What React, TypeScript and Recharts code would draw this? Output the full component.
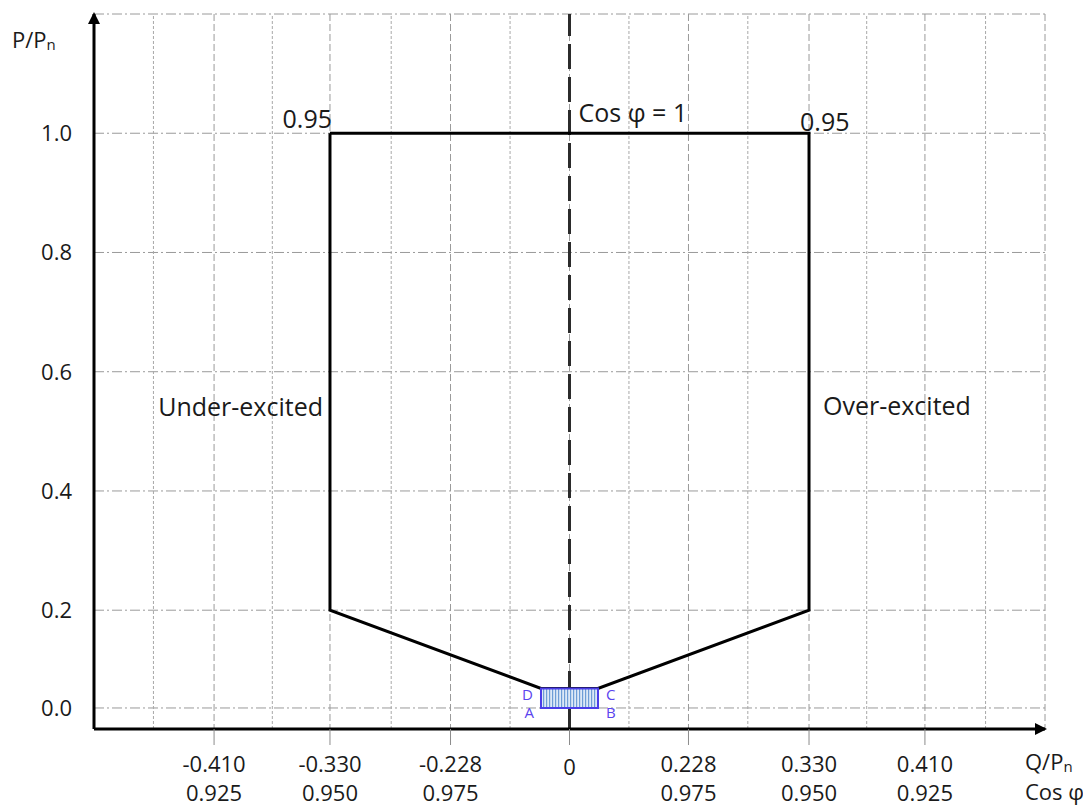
import {
  CartesianGrid,
  Line,
  LineChart,
  ReferenceArea,
  ReferenceDot,
  ReferenceLine,
  XAxis,
  YAxis,
} from 'recharts';

// capability outline, Q/Pn vs P/Pn
const outlineQ = [-0.33, 0.33, 0.33, 0.11, -0.11, -0.33, -0.33];
const outlineP = [1.0, 1.0, 0.2, 0.04, 0.04, 0.2, 1.0];

// small A-B-C-D box at the bottom
const boxQ = [-0.11, 0.11];
const boxP = [0, 0.04];

// x axis: Q/Pn ticks and the matching cos φ
const qTicks = [-0.41, -0.33, -0.228, 0, 0.228, 0.33, 0.41];
const qLabels = ['-0.410', '-0.330', '-0.228', '0', '0.228', '0.330', '0.410'];
const cosLabels = ['0.925', '0.950', '0.975', '', '0.975', '0.950', '0.925'];
// half steps between the cos φ ticks
const minorCos = [0.9125, 0.9375, 0.9625, 0.9875];

const pTicks = [0, 0.2, 0.4, 0.6, 0.8, 1.0];

const outline = outlineQ.map((q, i) => ({ q, p: outlineP[i] }));
const qOfCos = (c: number) => Math.tan(Math.acos(c));
const minorQ = minorCos.flatMap((c) => [-qOfCos(c), qOfCos(c)]);
const qLimit = qOfCos(0.9);

// x: equal steps of cos φ get equal room
const cosWarp = (q: number) => Math.sign(q) * (1 - 1 / Math.sqrt(1 + q * q));
// y: the 0..0.2 band is drawn a bit shorter than the others
const pWarp = (p: number) => (p >= 0.2 ? p : 0.2 - (0.2 - p) * 0.82);

function warpedScale(warp: (v: number) => number, dom: number[] = [0, 1], rng: number[] = [0, 1]): any {
  const s: any = (v: number) => {
    const a = warp(dom[0]);
    const b = warp(dom[dom.length - 1]);
    return rng[0] + ((warp(Number(v)) - a) / (b - a)) * (rng[rng.length - 1] - rng[0]);
  };
  s.domain = (d?: number[]) => {
    if (d === undefined) return dom;
    dom = d.map(Number);
    return s;
  };
  s.range = (r?: number[]) => {
    if (r === undefined) return rng;
    rng = r.map(Number);
    return s;
  };
  s.copy = () => warpedScale(warp, dom, rng);
  s.ticks = () => dom;
  return s;
}

const xScale = warpedScale(cosWarp);
const yScale = warpedScale(pWarp);

const FONT = '"Open Sans", sans-serif';
const INK = '#1a1a1a';
const GRID = '#9a9a9a';
const VIOLET = '#5a44ee';

type Note = { text: string; q: number; p: number; anchor: 'start' | 'end'; dx: number; dy: number; size: number; color: string };

const notes: Note[] = [
  { text: 'Under-excited', q: -0.33, p: 0.54, anchor: 'end', dx: -7, dy: 9, size: 25, color: INK },
  { text: 'Over-excited', q: 0.33, p: 0.54, anchor: 'start', dx: 14, dy: 8, size: 25, color: INK },
  { text: 'Cos φ = 1', q: 0, p: 1.0, anchor: 'start', dx: 9, dy: -11, size: 25, color: INK },
  { text: '0.95', q: -0.33, p: 1.0, anchor: 'end', dx: 2, dy: -5, size: 25, color: INK },
  { text: '0.95', q: 0.33, p: 1.0, anchor: 'start', dx: -9, dy: -2, size: 25, color: INK },
  { text: 'D', q: -0.11, p: 0.04, anchor: 'end', dx: -8, dy: 12, size: 15, color: VIOLET },
  { text: 'A', q: -0.11, p: 0, anchor: 'end', dx: -7, dy: 10, size: 15, color: VIOLET },
  { text: 'C', q: 0.11, p: 0.04, anchor: 'start', dx: 8, dy: 12, size: 15, color: VIOLET },
  { text: 'B', q: 0.11, p: 0, anchor: 'start', dx: 8, dy: 10, size: 15, color: VIOLET },
];

function QTick({ x, y, payload }: any) {
  const i = qTicks.indexOf(payload.value);
  if (i < 0) return null;
  const single = !cosLabels[i];
  return (
    <g fontFamily={FONT} fontSize={22} fill={INK} textAnchor="middle">
      <text x={x} y={y} dy={single ? 28 : 25}>
        {qLabels[i]}
      </text>
      {!single && (
        <text x={x} y={y} dy={54}>
          {cosLabels[i]}
        </text>
      )}
    </g>
  );
}

function XTitle({ viewBox }: any) {
  const x = viewBox.x + viewBox.width - 20;
  return (
    <g fontFamily={FONT} fill={INK}>
      <text x={x} y={viewBox.y + 41} fontSize={22}>
        Q/P
        <tspan fontSize={15} dy={2}>n</tspan>
      </text>
      <text x={x} y={viewBox.y + 71} fontSize={22}>
        Cos φ
      </text>
    </g>
  );
}

function YTitle({ viewBox }: any) {
  return (
    <text x={viewBox.x - 22} y={viewBox.y + 34} fontFamily={FONT} fontSize={22} fill={INK}>
      P/P
      <tspan fontSize={15} dy={2}>n</tspan>
    </text>
  );
}

export default function App() {
  return (
    <div style={{ position: 'absolute', left: 0, top: 0, width: 1083, height: 805, background: '#fff' }}>
      <LineChart width={1083} height={805} data={outline} margin={{ top: 14, right: 38, bottom: 16, left: 34 }}>
        <defs>
          <marker
            id="axis-arrow"
            viewBox="0 0 12 12"
            refX={10}
            refY={6}
            markerWidth={12}
            markerHeight={12}
            markerUnits="userSpaceOnUse"
            orient="auto-start-reverse"
          >
            <path d="M0,0 L12,6 L0,12 z" fill="#000" />
          </marker>
          <pattern id="box-stripes" width={3} height={4} patternUnits="userSpaceOnUse">
            <rect width={3} height={4} fill="#dce9f7" />
            <rect width={1.2} height={4} fill="#6d9dd6" />
          </pattern>
        </defs>
        <CartesianGrid vertical={false} stroke={GRID} strokeDasharray="10 3 2 3" />
        <CartesianGrid horizontal={false} stroke={GRID} strokeDasharray="7 3" />
        {minorQ.map((q) => (
          <ReferenceLine key={q} x={q} stroke="#a8a8a8" strokeDasharray="3 2" zIndex={-90} />
        ))}
        <XAxis
          dataKey="q"
          type="number"
          scale={xScale}
          domain={[-qLimit, qLimit]}
          allowDataOverflow
          ticks={qTicks}
          interval={0}
          height={60}
          tickSize={16}
          tickLine={{ stroke: '#8c8c8c' }}
          axisLine={{ stroke: '#000', strokeWidth: 3, markerEnd: 'url(#axis-arrow)' }}
          tick={<QTick />}
          label={<XTitle />}
        />
        <YAxis
          type="number"
          scale={yScale}
          domain={[-0.043, 1.2]}
          allowDataOverflow
          ticks={pTicks}
          interval={0}
          width={60}
          tickSize={0}
          tickMargin={22}
          tickLine={false}
          tickFormatter={(v) => Number(v).toFixed(1)}
          tick={{ fill: INK, fontSize: 22, fontFamily: FONT }}
          axisLine={{ stroke: '#000', strokeWidth: 3, markerStart: 'url(#axis-arrow)' }}
          label={<YTitle />}
        />
        <ReferenceLine x={0} stroke="#2b2b2b" strokeWidth={3} strokeDasharray="25 8" zIndex={-50} />
        <Line
          dataKey="p"
          stroke="#000"
          strokeWidth={3}
          dot={false}
          activeDot={false}
          strokeLinejoin="miter"
          isAnimationActive={false}
        />
        <ReferenceArea
          x1={boxQ[0]}
          x2={boxQ[1]}
          y1={boxP[0]}
          y2={boxP[1]}
          fill="url(#box-stripes)"
          fillOpacity={1}
          stroke="#4a3de8"
          strokeWidth={2}
          zIndex={450}
        />
        {notes.map((n, i) => (
          <ReferenceDot
            key={i}
            x={n.q}
            y={n.p}
            r={0}
            zIndex={2000}
            shape={(props: any) => (
              <text
                x={props.cx + n.dx}
                y={props.cy + n.dy}
                textAnchor={n.anchor}
                fontFamily={FONT}
                fontSize={n.size}
                fill={n.color}
              >
                {n.text}
              </text>
            )}
          />
        ))}
      </LineChart>
    </div>
  );
}
